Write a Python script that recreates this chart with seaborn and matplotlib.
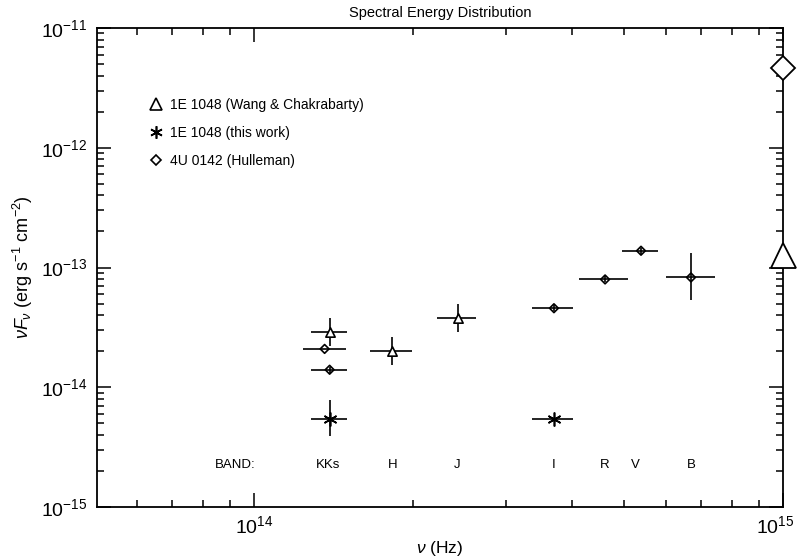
import numpy as np
import pandas as pd
import matplotlib
matplotlib.use("Agg")
import matplotlib.pyplot as plt
import matplotlib.transforms as mtransforms
import seaborn as sns
from matplotlib.lines import Line2D
from matplotlib.ticker import NullFormatter, LogLocator

# 1E 1048 (Wang & Chakrabarty): K, H, J
wang_nu = [1.39e14, 1.82e14, 2.43e14]
wang_nu_lo = [1.28e14, 1.66e14, 2.22e14]
wang_nu_hi = [1.50e14, 1.99e14, 2.63e14]
wang_f = [2.89e-14, 2.01e-14, 3.78e-14]
wang_f_lo = [2.20e-14, 1.54e-14, 2.89e-14]
wang_f_hi = [3.78e-14, 2.62e-14, 4.93e-14]

# 1E 1048 (this work): Ks, I
this_nu = [1.39e14, 3.69e14]
this_nu_lo = [1.28e14, 3.35e14]
this_nu_hi = [1.50e14, 4.01e14]
this_f = [5.48e-15, 5.48e-15]
this_f_lo = [3.88e-15, 5.48e-15]
this_f_hi = [7.87e-15, 5.48e-15]

# 4U 0142 (Hulleman): K, Ks, I, R, V, B
hul_nu = [1.36e14, 1.39e14, 3.69e14, 4.61e14, 5.39e14, 6.70e14]
hul_nu_lo = [1.24e14, 1.28e14, 3.35e14, 4.11e14, 4.96e14, 6.01e14]
hul_nu_hi = [1.49e14, 1.50e14, 4.01e14, 5.09e14, 5.80e14, 7.44e14]
hul_f = [2.09e-14, 1.40e-14, 4.57e-14, 7.95e-14, 1.38e-13, 8.26e-14]
hul_f_lo = [2.09e-14, 1.32e-14, 4.31e-14, 7.50e-14, 1.30e-13, 5.32e-14]
hul_f_hi = [2.09e-14, 1.48e-14, 4.84e-14, 8.42e-14, 1.46e-13, 1.31e-13]

# markers sitting on the right axis
edge_nu = [1e15, 1e15]
edge_f = [4.6e-12, 1.26e-13]

# band labels
band_names = ["BAND:", "KKs", "H", "J", "I", "R", "V", "B"]
band_nu = [9.2e13, 1.38e14, 1.83e14, 2.42e14, 3.68e14, 4.61e14, 5.27e14, 6.70e14]
band_y = 2.23e-15

x_major = [1e14, 1e15]
y_major = [1e-15, 1e-14, 1e-13, 1e-12, 1e-11]

sns.set_theme(style="ticks")
plt.rcParams["font.family"] = ["Liberation Sans", "DejaVu Sans"]
plt.rcParams["mathtext.fontset"] = "custom"
plt.rcParams["mathtext.rm"] = "Liberation Sans"
plt.rcParams["mathtext.it"] = "Liberation Sans:italic"
plt.rcParams["mathtext.sf"] = "Liberation Sans"
for key in ["text.color", "axes.labelcolor", "xtick.color", "ytick.color"]:
    plt.rcParams[key] = "black"

fig = plt.figure(figsize=(7.97, 5.6), dpi=100)
ax = fig.add_axes([97 / 797, 53 / 560, 686 / 797, 479 / 560])


def bars(nu, lo, hi, f, flo, fhi):
    nu, lo, hi = np.array(nu), np.array(lo), np.array(hi)
    f, flo, fhi = np.array(f), np.array(flo), np.array(fhi)
    ax.errorbar(nu, f, xerr=[nu - lo, hi - nu], yerr=[f - flo, fhi - f],
                fmt="none", ecolor="black", elinewidth=1.2, capsize=0, zorder=2)


bars(wang_nu, wang_nu_lo, wang_nu_hi, wang_f, wang_f_lo, wang_f_hi)
bars(this_nu, this_nu_lo, this_nu_hi, this_f, this_f_lo, this_f_hi)
bars(hul_nu, hul_nu_lo, hul_nu_hi, hul_f, hul_f_lo, hul_f_hi)

wang = pd.DataFrame({"nu": wang_nu, "f": wang_f})
this = pd.DataFrame({"nu": this_nu, "f": this_f})
hul = pd.DataFrame({"nu": hul_nu, "f": hul_f})

sns.scatterplot(data=wang, x="nu", y="f", marker="^", s=45, facecolor="white",
                edgecolor="black", linewidth=1.2, ax=ax, zorder=3)
sns.scatterplot(data=hul, x="nu", y="f", marker="D", s=20, facecolor="none",
                edgecolor="black", linewidth=1.2, ax=ax, zorder=3)
ax.plot(this["nu"], this["f"], linestyle="none", marker=(6, 2, 0),
        markersize=10, color="black", markeredgewidth=1.2, zorder=3)

# big markers on the right axis
ax.plot(edge_nu[0], edge_f[0], marker="D", markersize=12.5, mfc="white",
        mec="black", mew=1.3, linestyle="none", clip_on=False, zorder=4)
ax.plot(edge_nu[1], edge_f[1], marker="^", markersize=18, mfc="white",
        mec="black", mew=1.3, linestyle="none", clip_on=False, zorder=4)

for name, x in zip(band_names, band_nu):
    ax.text(x, band_y, name, ha="center", va="center", fontsize=9.5)

ax.set_xscale("log")
ax.set_yscale("log")
ax.set_xlim(5.05e13, 1e15)
ax.set_ylim(1e-15, 1e-11)
ax.set_xticks(x_major)
ax.set_yticks(y_major)
ax.xaxis.set_minor_formatter(NullFormatter())
ax.yaxis.set_minor_locator(LogLocator(base=10, subs=np.arange(2, 10)))
ax.yaxis.set_minor_formatter(NullFormatter())
ax.tick_params(which="both", direction="in", top=True, right=True,
               width=1.1, labelsize=14, color="black")
ax.tick_params(which="major", length=10)
ax.tick_params(which="minor", length=5)
ax.tick_params(axis="x", which="major", pad=6)
ax.tick_params(axis="y", which="major", pad=7)
for sp in ax.spines.values():
    sp.set_linewidth(1.3)
    sp.set_color("black")

# nudge the 10^15 label left so it stays inside the figure
last = ax.xaxis.get_major_ticks()[-1].label1
last.set_transform(last.get_transform()
                   + mtransforms.ScaledTranslation(-8 / 100, 0, fig.dpi_scale_trans))

ax.set_title("Spectral Energy Distribution", fontsize=10.5, pad=8)
ax.set_xlabel(r"$\nu$ (Hz)", fontsize=12.5, labelpad=1)
ax.set_ylabel(r"$\nu F_\nu$ (erg s$^{-1}$ cm$^{-2}$)", fontsize=13, labelpad=4)

handles = [
    Line2D([], [], linestyle="none", marker="^", markersize=8, mfc="white",
           mec="black", mew=1.2),
    Line2D([], [], linestyle="none", marker=(6, 2, 0), markersize=9,
           color="black", mew=1.2),
    Line2D([], [], linestyle="none", marker="D", markersize=5.5, mfc="white",
           mec="black", mew=1.2),
]
labels = ["1E 1048 (Wang & Chakrabarty)", "1E 1048 (this work)", "4U 0142 (Hulleman)"]
ax.legend(handles, labels, loc="upper left", bbox_to_anchor=(0.07, 0.865),
          frameon=False, fontsize=10, handlelength=0.8, handletextpad=0.6,
          labelspacing=1.0, borderaxespad=0)

fig.savefig("out.png", dpi=100)
